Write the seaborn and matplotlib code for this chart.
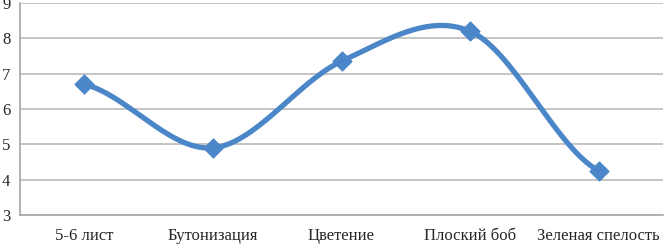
import numpy as np
import pandas as pd
import matplotlib
matplotlib.use('Agg')
import matplotlib.pyplot as plt
import seaborn as sns

# stages and values
stages = ['5-6 лист', 'Бутонизация', 'Цветение', 'Плоский боб', 'Зеленая спелость']
values = [6.7, 4.9, 7.35, 8.2, 4.25]

sns.set_style('white')
plt.rcParams['font.family'] = ['Liberation Serif', 'DejaVu Serif']

# smooth the line the way a spreadsheet does (catmull-rom through the points)
x = np.arange(len(values), dtype=float)
y = np.array(values)
yp = np.concatenate([[y[0]], y, [y[-1]]])
xs, ys = [], []
for i in range(len(y) - 1):
    m0 = (yp[i + 2] - yp[i]) / 2
    m1 = (yp[i + 3] - yp[i + 1]) / 2
    t = np.linspace(0, 1, 60)
    h00 = 2 * t**3 - 3 * t**2 + 1
    h10 = t**3 - 2 * t**2 + t
    h01 = -2 * t**3 + 3 * t**2
    h11 = t**3 - t**2
    xs.extend(x[i] + t)
    ys.extend(h00 * y[i] + h10 * m0 + h01 * y[i + 1] + h11 * m1)
curve = pd.DataFrame({'x': xs, 'y': ys})
pts = pd.DataFrame({'x': x, 'y': y})

fig = plt.figure(figsize=(6.66, 2.46), dpi=100)
ax = fig.add_axes([20 / 666, 31 / 246, 643 / 666, 212 / 246])

blue = '#4a86c8'
sns.lineplot(data=curve, x='x', y='y', ax=ax, color=blue, lw=3.8, sort=False, zorder=3)
sns.scatterplot(data=pts, x='x', y='y', ax=ax, color=blue, marker='D', s=95,
                edgecolor=blue, zorder=4)

ax.set_xlim(-0.5, 4.5)
ax.set_ylim(3, 9)
ax.set_yticks(range(3, 10))
ax.set_xticks(x)
ax.set_xticklabels(stages)
ax.set_xticks(np.arange(-0.5, 5, 1), minor=True)
ax.tick_params(axis='x', which='major', length=0, pad=9, labelsize=12)
ax.tick_params(axis='x', which='minor', length=4, color='#a6a6a6', width=1)
ax.tick_params(axis='y', length=4, color='#a6a6a6', width=1, pad=3, labelsize=12)
ax.set_xlabel('')
ax.set_ylabel('')
ax.grid(axis='y', color='#bfbfbf', lw=1.3)
ax.set_axisbelow(True)
for s in ['top', 'right']:
    ax.spines[s].set_visible(False)
for s in ['left', 'bottom']:
    ax.spines[s].set_color('#a6a6a6')
    ax.spines[s].set_linewidth(1.2)

fig.savefig('out.png', dpi=100)
